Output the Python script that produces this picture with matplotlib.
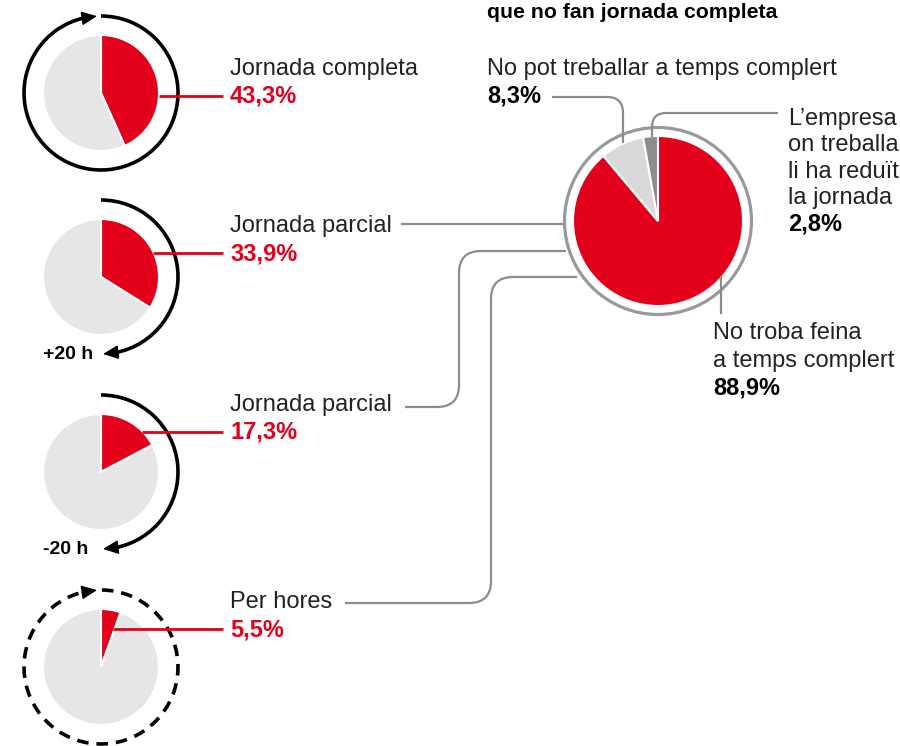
import matplotlib.pyplot as plt
import numpy as np
from matplotlib.patches import Arc, Circle, FancyArrowPatch, PathPatch, ArrowStyle
from matplotlib.path import Path

# data
small_labels = ["Jornada completa", "Jornada parcial", "Jornada parcial", "Per hores"]
small_values = [43.3, 33.9, 17.3, 5.5]
small_pct = ["43,3%", "33,9%", "17,3%", "5,5%"]
hour_labels = ["", "+20 h", "-20 h", ""]

big_labels = [["No troba feina", "a temps complert"],
              ["No pot treballar a temps complert"],
              ["L’empresa", "on treballa", "li ha reduït", "la jornada"]]
big_values = [88.9, 8.3, 2.8]
big_pct = ["88,9%", "8,3%", "2,8%"]
title = "que no fan jornada completa"

RED = "#e2001a"
LIGHT = "#e6e6e6"
LINE = "#8c8c8c"
TXT = "#222222"
FONT = "Liberation Sans"
FS = 17

W, H = 900, 746


def Y(y):
    return H - y


fig = plt.figure(figsize=(9, 7.46), dpi=100)
ax = fig.add_axes([0, 0, 1, 1])

# small pies on the left
cx = 101
cys = [93, 277, 472, 667]
r_small = 58
R_ring = 77
line_y = [96, 253, 432, 629]
line_x0 = [159, 153, 142, 113]

for i, v in enumerate(small_values):
    cy = Y(cys[i])
    ax.pie([v, 100 - v], colors=[RED, LIGHT], startangle=90, counterclock=False,
           center=(cx, cy), radius=r_small,
           wedgeprops=dict(edgecolor="white", linewidth=1.5))

    # arcs around pies
    if i == 0 or i == 3:
        ls = "-" if i == 0 else (0, (3.2, 2.2))
        a1 = 103 if i == 0 else 107
        ax.add_patch(Arc((cx, cy), 2 * R_ring, 2 * R_ring, theta1=a1, theta2=450,
                         color="black", lw=2.6, linestyle=ls))
        tip, base = 93, 104
    else:
        ax.add_patch(Arc((cx, cy), 2 * R_ring, 2 * R_ring, theta1=-79, theta2=90,
                         color="black", lw=2.6))
        tip, base = -88.5, -78
    p_tip = (cx + R_ring * np.cos(np.radians(tip)), cy + R_ring * np.sin(np.radians(tip)))
    p_base = (cx + R_ring * np.cos(np.radians(base)), cy + R_ring * np.sin(np.radians(base)))
    ax.add_patch(FancyArrowPatch(p_base, p_tip, arrowstyle=ArrowStyle("-|>", head_length=9.5, head_width=4.3),
                                 mutation_scale=1, color="black", lw=1, shrinkA=0, shrinkB=0))
    if hour_labels[i]:
        ax.text(93 if i == 1 else 88, Y(cys[i] + 82), hour_labels[i], ha="right", va="baseline",
                fontsize=14, fontweight="bold", color="black", family=FONT)

    # red leader line and labels
    ly = line_y[i]
    ax.plot([line_x0[i], 223], [Y(ly), Y(ly)], color=RED, lw=2, solid_capstyle="butt")
    ax.text(230, Y(ly - 21), small_labels[i], ha="left", va="baseline", fontsize=FS,
            color=TXT, family=FONT)
    ax.text(230, Y(ly + 7), small_pct[i], ha="left", va="baseline", fontsize=FS,
            fontweight="bold", color=RED, family=FONT)

# big pie
bcx, bcy = 658, Y(221)
ax.pie(big_values, colors=[RED, "#d9d9d9", "#8c8c8c"], startangle=90, counterclock=False,
       center=(bcx, bcy), radius=85, wedgeprops=dict(edgecolor="white", linewidth=1.5))
ax.add_patch(Circle((bcx, bcy), 93.5, facecolor="none", edgecolor="#999999", lw=2.3))


def rounded(pts, r=20):
    # polyline with rounded corners
    verts, codes = [pts[0]], [Path.MOVETO]
    for k in range(1, len(pts) - 1):
        p0, p1, p2 = np.array(pts[k - 1], float), np.array(pts[k], float), np.array(pts[k + 1], float)
        d1 = (p1 - p0) / np.linalg.norm(p1 - p0)
        d2 = (p2 - p1) / np.linalg.norm(p2 - p1)
        verts += [tuple(p1 - d1 * r), tuple(p1), tuple(p1 + d2 * r)]
        codes += [Path.LINETO, Path.CURVE3, Path.CURVE3]
    verts.append(pts[-1])
    codes.append(Path.LINETO)
    return PathPatch(Path(verts, codes), facecolor="none", edgecolor=LINE, lw=1.6)


# connectors from left labels to big pie
ax.plot([402, 562], [Y(224), Y(224)], color=LINE, lw=1.6)
ax.add_patch(rounded([(405, Y(407)), (459, Y(407)), (459, Y(251)), (566, Y(251))], 22))
ax.add_patch(rounded([(345, Y(603)), (491, Y(603)), (491, Y(277)), (577, Y(277))], 22))

# big pie annotations
ax.add_patch(rounded([(552, Y(97)), (623, Y(97)), (623, Y(143))], 16))
ax.add_patch(rounded([(652, Y(137)), (652, Y(113)), (778, Y(113))], 14))
ax.plot([721, 721], [Y(277), Y(313)], color=LINE, lw=1.6)


def block(x, y0, step, lines, pct):
    for k, s in enumerate(lines):
        ax.text(x, Y(y0 + k * step), s, ha="left", va="baseline", fontsize=FS,
                color=TXT, family=FONT)
    ax.text(x, Y(y0 + len(lines) * step), pct, ha="left", va="baseline", fontsize=FS,
            fontweight="bold", color="black", family=FONT)


block(713, 339, 28, big_labels[0], big_pct[0])
block(487, 75, 28, big_labels[1], big_pct[1])
block(788, 125, 26.3, big_labels[2], big_pct[2])

ax.text(487, Y(18), title, ha="left", va="baseline", fontsize=15.3, fontweight="bold",
        color="black", family=FONT)

ax.set_xlim(0, W)
ax.set_ylim(0, H)
ax.set_aspect("equal")
ax.axis("off")

fig.savefig("out.png", dpi=100)
